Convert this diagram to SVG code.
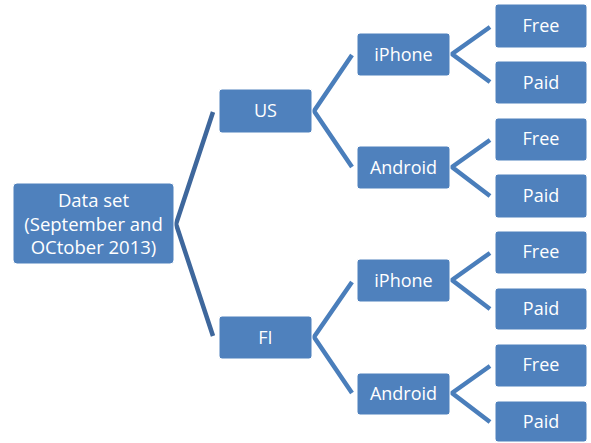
<svg xmlns="http://www.w3.org/2000/svg" width="591" height="443" viewBox="0 0 591 443">
<style>
.box{fill:#4F81BD;stroke:#ffffff;stroke-width:1}
.t{fill:#ffffff;font-family:"Open Sans","Noto Sans",sans-serif;font-size:18px;text-anchor:middle}
.c{fill:none;stroke:#4A7EBB;stroke-width:4.5;stroke-linejoin:miter}
.c0{stroke:#3E679C}
</style>
<rect width="591" height="443" fill="#ffffff"/>
<g id="connectors">
<polyline class="c c0" points="213,112 176,224 213,336"/>
<polyline class="c" points="352,55 314,111 352,167"/>
<polyline class="c" points="352,282 314,337 352,393"/>
<polyline class="c" points="490,27 452,54 490,82"/>
<polyline class="c" points="490,140 452,167 490,196"/>
<polyline class="c" points="490,253 452,280 490,309"/>
<polyline class="c" points="490,366 452,393 490,422"/>
</g>
<g id="root"><rect class="box" x="13" y="183" width="161" height="81" rx="4"/>
<text class="t" x="93.5" y="207" style="font-size:18.5px">Data set</text><text class="t" x="93.5" y="231" style="font-size:18.5px">(September and</text><text class="t" x="93.5" y="254" style="font-size:18.5px">OCtober 2013)</text></g>
<g id="us"><rect class="box" x="219" y="89" width="93" height="44" rx="3"/><text class="t" x="265.5" y="117">US</text></g>
<g id="fi"><rect class="box" x="219" y="316" width="93" height="43" rx="3"/><text class="t" x="265.5" y="344">FI</text></g>
<g id="us-iphone"><rect class="box" x="357" y="33" width="93" height="43" rx="3"/><text class="t" x="403.5" y="61">iPhone</text></g>
<g id="us-android"><rect class="box" x="357" y="146" width="93" height="43" rx="3"/><text class="t" x="403.5" y="174">Android</text></g>
<g id="fi-iphone"><rect class="box" x="357" y="259" width="93" height="43" rx="3"/><text class="t" x="403.5" y="287">iPhone</text></g>
<g id="fi-android"><rect class="box" x="357" y="373" width="93" height="42" rx="3"/><text class="t" x="403.5" y="400">Android</text></g>
<g id="l1"><rect class="box" x="495" y="4" width="92" height="44" rx="3"/><text class="t" x="541" y="32">Free</text></g>
<g id="l2"><rect class="box" x="495" y="61" width="92" height="43" rx="3"/><text class="t" x="541" y="89">Paid</text></g>
<g id="l3"><rect class="box" x="495" y="118" width="92" height="43" rx="3"/><text class="t" x="541" y="145">Free</text></g>
<g id="l4"><rect class="box" x="495" y="174" width="92" height="44" rx="3"/><text class="t" x="541" y="202">Paid</text></g>
<g id="l5"><rect class="box" x="495" y="231" width="92" height="43" rx="3"/><text class="t" x="541" y="258">Free</text></g>
<g id="l6"><rect class="box" x="495" y="288" width="92" height="42" rx="3"/><text class="t" x="541" y="315">Paid</text></g>
<g id="l7"><rect class="box" x="495" y="344" width="92" height="43" rx="3"/><text class="t" x="541" y="371">Free</text></g>
<g id="l8"><rect class="box" x="495" y="401" width="92" height="41" rx="3"/><text class="t" x="541" y="428">Paid</text></g>
</svg>
